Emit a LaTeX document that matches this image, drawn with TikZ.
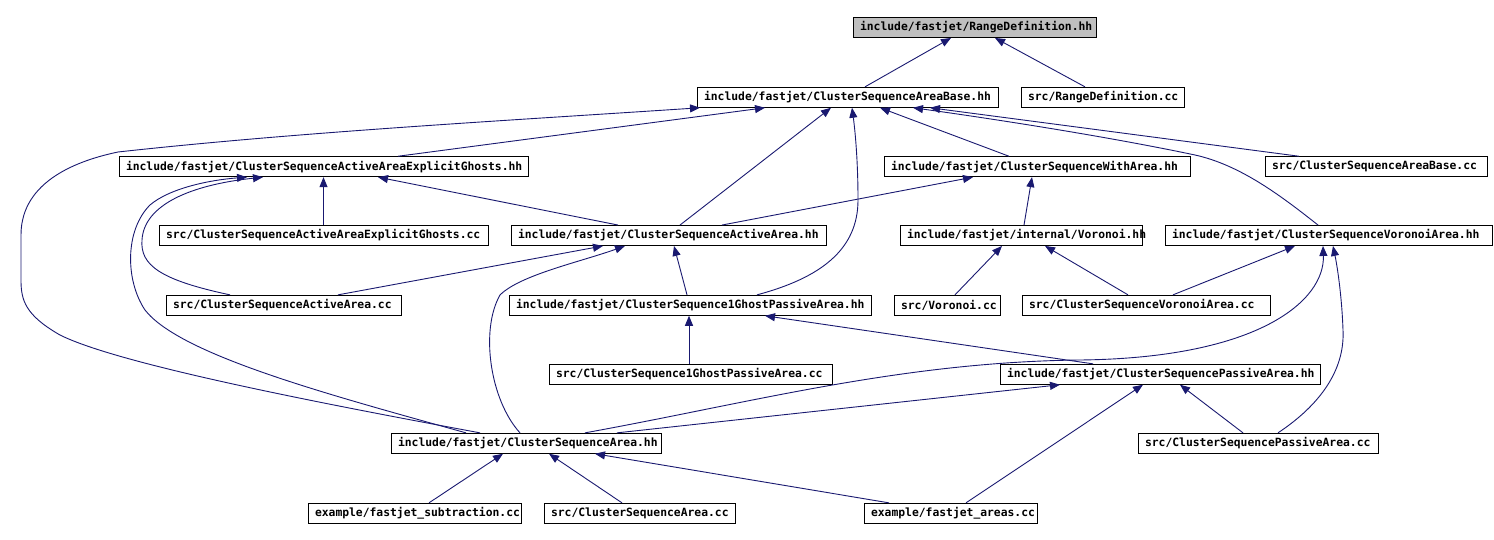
\documentclass[tikz,border=0pt]{standalone}
\usepackage{fontspec}
\newfontfamily\lblfont{DejaVu Sans Mono}
\usetikzlibrary{arrows.meta}
\definecolor{edgeblue}{HTML}{191970}
\definecolor{boxgray}{HTML}{BFBFBF}
\newcommand{\nb}[1]{\mbox{#1}}
\begin{document}
\begin{tikzpicture}[x=1pt,y=-1pt,
  box/.style={draw=black, line width=0.9pt, fill=white, minimum height=20pt, inner xsep=7pt, inner ysep=0pt, align=left,
    font=\lblfont\bfseries\fontsize{11.35}{13}\selectfont},
  e/.style={draw=edgeblue, line width=0.9pt, -{Triangle[length=10pt,width=8pt]}}]
\useasboundingbox (0,0) rectangle (1494,540);
% row 0
\node[box, fill=boxgray, text width=229pt] (rd) at (974.5,27.5) {\nb{include/fastjet/RangeDefinition.hh}};
% row 1
\node[box, text width=287pt] (ab) at (847.5,97.3) {\nb{include/fastjet/ClusterSequenceAreaBase.hh}};
\node[box, text width=149pt] (rdcc) at (1102.5,97.3) {\nb{src/RangeDefinition.cc}};
% row 2
\node[box, text width=395pt] (eg) at (323.5,166.7) {\nb{include/fastjet/ClusterSequenceActiveAreaExplicitGhosts.hh}};
\node[box, text width=292pt] (wa) at (1037,166.7) {\nb{include/fastjet/ClusterSequenceWithArea.hh}};
\node[box, text width=208pt] (abcc) at (1376,166.7) {\nb{src/ClusterSequenceAreaBase.cc}};
% row 3
\node[box, text width=315pt] (egcc) at (323.5,235.5) {\nb{src/ClusterSequenceActiveAreaExplicitGhosts.cc}};
\node[box, text width=301pt] (aa) at (668.5,235.5) {\nb{include/fastjet/ClusterSequenceActiveArea.hh}};
\node[box, text width=228pt] (vor) at (1021,235.5) {\nb{include/fastjet/internal/Voronoi.hh}};
\node[box, text width=313pt] (va) at (1328.5,235.5) {\nb{include/fastjet/ClusterSequenceVoronoiArea.hh}};
% row 4
\node[box, text width=221pt] (aacc) at (283.5,305.3) {\nb{src/ClusterSequenceActiveArea.cc}};
\node[box, text width=348pt] (gp) at (690,305.3) {\nb{include/fastjet/ClusterSequence1GhostPassiveArea.hh}};
\node[box, text width=92pt] (vorcc) at (947,305.3) {\nb{src/Voronoi.cc}};
\node[box, text width=234pt] (vacc) at (1146,305.3) {\nb{src/ClusterSequenceVoronoiArea.cc}};
% row 5
\node[box, text width=269pt] (gpcc) at (690.5,374.3) {\nb{src/ClusterSequence1GhostPassiveArea.cc}};
\node[box, text width=306pt] (pa) at (1160,374.3) {\nb{include/fastjet/ClusterSequencePassiveArea.hh}};
% row 6
\node[box, text width=256pt] (csa) at (526,443.3) {\nb{include/fastjet/ClusterSequenceArea.hh}};
\node[box, text width=226pt] (pacc) at (1258,443.3) {\nb{src/ClusterSequencePassiveArea.cc}};
% row 7
\node[box, text width=199pt] (sub) at (414.5,513.3) {\nb{example/fastjet\_subtraction.cc}};
\node[box, text width=177pt] (csacc) at (639.5,513.3) {\nb{src/ClusterSequenceArea.cc}};
\node[box, text width=159pt] (areas) at (950.5,513.3) {\nb{example/fastjet\_areas.cc}};
% edges
\draw[e] (865,0 |- ab.north) -- (951,0 |- rd.south);
\draw[e] (1085,0 |- rdcc.north) -- (995,0 |- rd.south);
\draw[e] (398,0 |- eg.north) -- (765,0 |- ab.south);
\draw[e] (480,0 |- csa.north) .. controls (330,405) and (120,365) .. (60,335)
   .. controls (25,315) and (21,300) .. (21,280) -- (21,235)
   .. controls (21,180) and (80,160) .. (118,152)
   .. controls (300,132) and (500,121) .. (700,0 |- ab.south);
\draw[e] (680,0 |- aa.north) -- (831,0 |- ab.south);
\draw[e] (757,0 |- gp.north) .. controls (820,278) and (858,250) .. (858,200)
   .. controls (858,160) and (855,130) .. (852,0 |- ab.south);
\draw[e] (1009,0 |- wa.north) -- (880,0 |- ab.south);
\draw[e] (1318,0 |- va.north) .. controls (1280,195) and (1240,165) .. (1195,155)
   .. controls (1100,135) and (980,117) .. (913,0 |- ab.south);
\draw[e] (1299,0 |- abcc.north) -- (930,0 |- ab.south);
\draw[e] (323.5,0 |- egcc.north) -- (323.5,0 |- eg.south);
\draw[e] (618,0 |- aa.north) -- (378,0 |- eg.south);
\draw[e] (230,0 |- aacc.north) .. controls (160,280) and (140,265) .. (142,240)
   .. controls (144,205) and (190,185) .. (263,0 |- eg.south);
\draw[e] (466,0 |- csa.north) .. controls (330,395) and (180,355) .. (145,310)
   .. controls (125,280) and (125,230) .. (150,205)
   .. controls (170,188) and (210,180) .. (247,0 |- eg.south);
\draw[e] (1024,0 |- vor.north) -- (1032,0 |- wa.south);
\draw[e] (722,0 |- aa.north) -- (973,0 |- wa.south);
\draw[e] (338,0 |- aacc.north) -- (603,0 |- aa.south);
\draw[e] (520,0 |- csa.north) .. controls (490,400) and (480,330) .. (500,295)
   .. controls (520,275) and (580,262) .. (625,0 |- aa.south);
\draw[e] (687,0 |- gp.north) -- (674,0 |- aa.south);
\draw[e] (955,0 |- vorcc.north) -- (1002,0 |- vor.south);
\draw[e] (1128,0 |- vacc.north) -- (1045,0 |- vor.south);
\draw[e] (1173,0 |- vacc.north) -- (1295,0 |- va.south);
\draw[e] (585,0 |- csa.north) .. controls (750,403) and (900,362) .. (1080,360)
   .. controls (1260,358) and (1325,300) .. (1323,0 |- va.south);
\draw[e] (617,0 |- csa.north) -- (1060,0 |- pa.south);
\draw[e] (1243,0 |- pacc.north) -- (1180,0 |- pa.south);
\draw[e] (1278,0 |- pacc.north) .. controls (1320,405) and (1345,370) .. (1343,330)
   .. controls (1342,300) and (1338,270) .. (1333,0 |- va.south);
\draw[e] (966,0 |- areas.north) -- (1143,0 |- pa.south);
\draw[e] (689,0 |- gpcc.north) -- (689,0 |- gp.south);
\draw[e] (1093,0 |- pa.north) -- (765,0 |- gp.south);
\draw[e] (429,0 |- sub.north) -- (503,0 |- csa.south);
\draw[e] (622,0 |- csacc.north) -- (549,0 |- csa.south);
\draw[e] (889,0 |- areas.north) -- (595,0 |- csa.south);
\end{tikzpicture}
\end{document}
